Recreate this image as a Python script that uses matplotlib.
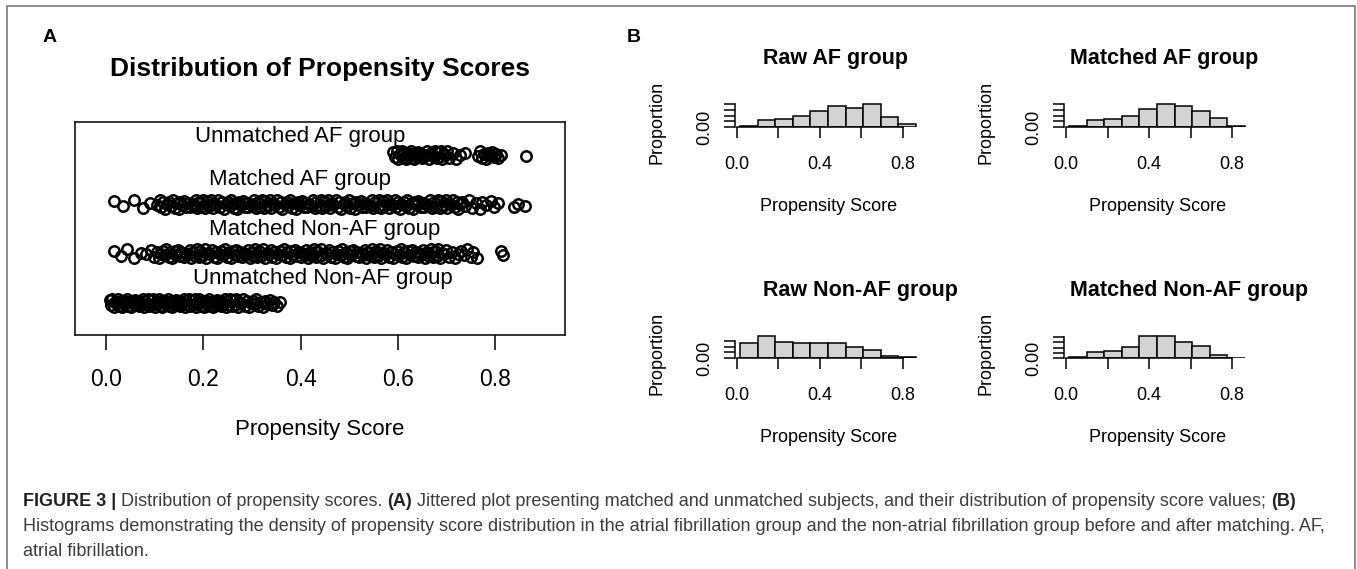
import matplotlib
matplotlib.use("Agg")
import matplotlib.pyplot as plt
import numpy as np
from matplotlib.patches import Rectangle
from matplotlib.transforms import IdentityTransform

W, H = 1357, 569
plt.rcParams['font.family'] = ['Liberation Sans', 'DejaVu Sans']

# ---- panel A: propensity scores per group (jitter plot)
group_names = ["Unmatched AF group", "Matched AF group",
               "Matched Non-AF group", "Unmatched Non-AF group"]

unmatched_af = [0.590, 0.594, 0.597, 0.600, 0.603, 0.606, 0.608, 0.611, 0.613, 0.616,
                0.618, 0.621, 0.623, 0.626, 0.628, 0.631, 0.633, 0.636, 0.638, 0.641,
                0.644, 0.647, 0.650, 0.653, 0.656, 0.660, 0.664, 0.668, 0.673, 0.676,
                0.679, 0.682, 0.685, 0.688, 0.691, 0.694, 0.697, 0.701, 0.705, 0.712,
                0.719, 0.727, 0.738, 0.764, 0.769, 0.773, 0.777, 0.781, 0.785, 0.789,
                0.793, 0.797, 0.801, 0.806, 0.812, 0.863]

matched_af = [0.017, 0.035, 0.058, 0.076, 0.090, 0.104,
              0.110, 0.114, 0.117, 0.122, 0.126, 0.129, 0.133, 0.138, 0.141, 0.145,
              0.149, 0.152, 0.157, 0.161, 0.164, 0.168, 0.173, 0.176, 0.180, 0.184,
              0.187, 0.192, 0.196, 0.199, 0.203, 0.208, 0.211, 0.215, 0.219, 0.222,
              0.227, 0.231, 0.234, 0.238, 0.243, 0.246, 0.250, 0.254, 0.257, 0.262,
              0.266, 0.269, 0.273, 0.278, 0.281, 0.285, 0.289, 0.292, 0.297, 0.301,
              0.304, 0.308, 0.313, 0.316, 0.320, 0.324, 0.327, 0.332, 0.336, 0.339,
              0.343, 0.348, 0.351, 0.355, 0.359, 0.362, 0.367, 0.371, 0.374, 0.378,
              0.383, 0.386, 0.390, 0.394, 0.397, 0.402, 0.406, 0.409, 0.413, 0.418,
              0.421, 0.425, 0.429, 0.432, 0.437, 0.441, 0.444, 0.448, 0.453, 0.456,
              0.460, 0.464, 0.467, 0.472, 0.476, 0.479, 0.483, 0.488, 0.491, 0.495,
              0.499, 0.502, 0.507, 0.511, 0.514, 0.518, 0.523, 0.526, 0.530, 0.534,
              0.537, 0.542, 0.546, 0.549, 0.553, 0.558, 0.561, 0.565, 0.569, 0.572,
              0.577, 0.581, 0.584, 0.588, 0.593, 0.596, 0.600, 0.604, 0.607, 0.612,
              0.616, 0.619, 0.623, 0.628, 0.631, 0.635, 0.639, 0.642, 0.647, 0.651,
              0.654, 0.658, 0.663, 0.666, 0.670, 0.674, 0.677, 0.682, 0.686, 0.689,
              0.693, 0.698, 0.701, 0.705, 0.709, 0.712, 0.717, 0.721, 0.724, 0.728,
              0.732, 0.738, 0.745, 0.752, 0.760, 0.768, 0.773, 0.781, 0.790, 0.798,
              0.806, 0.838, 0.846, 0.861]

matched_nonaf = [0.017, 0.031, 0.043, 0.058, 0.071, 0.083, 0.092, 0.099,
                 0.105, 0.108, 0.113, 0.117, 0.121, 0.124, 0.129, 0.132, 0.136, 0.141,
                 0.144, 0.148, 0.152, 0.155, 0.160, 0.163, 0.167, 0.172, 0.175, 0.179,
                 0.183, 0.186, 0.191, 0.194, 0.198, 0.203, 0.206, 0.210, 0.214, 0.217,
                 0.222, 0.225, 0.229, 0.234, 0.237, 0.241, 0.245, 0.248, 0.253, 0.256,
                 0.260, 0.265, 0.268, 0.272, 0.276, 0.279, 0.284, 0.287, 0.291, 0.296,
                 0.299, 0.303, 0.307, 0.310, 0.315, 0.318, 0.322, 0.327, 0.330, 0.334,
                 0.338, 0.341, 0.346, 0.349, 0.353, 0.358, 0.361, 0.365, 0.369, 0.372,
                 0.377, 0.380, 0.384, 0.389, 0.392, 0.396, 0.400, 0.403, 0.408, 0.411,
                 0.415, 0.420, 0.423, 0.427, 0.431, 0.434, 0.439, 0.442, 0.446, 0.451,
                 0.454, 0.458, 0.462, 0.465, 0.470, 0.473, 0.477, 0.482, 0.485, 0.489,
                 0.493, 0.496, 0.501, 0.504, 0.508, 0.513, 0.516, 0.520, 0.524, 0.527,
                 0.532, 0.535, 0.539, 0.544, 0.547, 0.551, 0.555, 0.558, 0.563, 0.566,
                 0.570, 0.575, 0.578, 0.582, 0.586, 0.589, 0.594, 0.597, 0.601, 0.606,
                 0.609, 0.613, 0.617, 0.620, 0.625, 0.628, 0.632, 0.637, 0.640, 0.644,
                 0.648, 0.651, 0.656, 0.659, 0.663, 0.668, 0.671, 0.675, 0.679, 0.682,
                 0.687, 0.690, 0.694, 0.699,
                 0.704, 0.711, 0.717, 0.724, 0.729, 0.736, 0.742, 0.749, 0.755, 0.762,
                 0.811, 0.815]

unmatched_nonaf = [0.008, 0.011, 0.013, 0.016, 0.019, 0.021, 0.024, 0.027, 0.030, 0.032,
                   0.035, 0.038, 0.040, 0.043, 0.046, 0.049, 0.051, 0.054, 0.057, 0.059,
                   0.062, 0.065, 0.068, 0.070, 0.073, 0.076, 0.078, 0.081, 0.084, 0.087,
                   0.089, 0.092, 0.095, 0.097, 0.100, 0.103, 0.106, 0.108, 0.111, 0.114,
                   0.116, 0.119, 0.122, 0.125, 0.127, 0.130, 0.133, 0.135, 0.138, 0.141,
                   0.144, 0.146, 0.149, 0.152, 0.154, 0.157, 0.160, 0.163, 0.165, 0.168,
                   0.171, 0.173, 0.176, 0.179, 0.182, 0.184, 0.187, 0.190, 0.192, 0.195,
                   0.198, 0.201, 0.203, 0.206, 0.209, 0.211, 0.214, 0.217, 0.220, 0.222,
                   0.225, 0.228, 0.230, 0.233, 0.236, 0.239, 0.241, 0.244, 0.247, 0.249,
                   0.252, 0.255, 0.258, 0.260, 0.264, 0.267, 0.271, 0.274, 0.278, 0.282,
                   0.285, 0.289, 0.293, 0.297, 0.301, 0.305, 0.309, 0.313, 0.318, 0.322,
                   0.327, 0.331, 0.336, 0.341, 0.346, 0.352, 0.358]

# small vertical offsets used to spread the points (cycled over each group)
jitter_pattern = [0.06, -0.04, 0.09, -0.08, 0.02, -0.01, 0.08, -0.06, 0.04, -0.09, 0.00,
                  0.05, -0.03, 0.09, -0.07, 0.03, -0.09, 0.05, -0.02, 0.07, -0.05, 0.03,
                  -0.06, 0.01, -0.03, 0.08, -0.08, 0.04, -0.05, 0.09, -0.07]

# ---- panel B: histograms (proportion per bin)
bin_edges = [0.015, 0.100, 0.184, 0.269, 0.354, 0.438, 0.523, 0.608, 0.692, 0.777, 0.862]
raw_af_prop = [0.002, 0.012, 0.0135, 0.019, 0.029, 0.037, 0.0335, 0.0405, 0.018, 0.005]
matched_af_prop = [0.0018, 0.0129, 0.0147, 0.020, 0.0312, 0.0412, 0.0365, 0.0276, 0.0159, 0.0012]
raw_nonaf_prop = [0.027, 0.039, 0.0293, 0.027, 0.027, 0.027, 0.0198, 0.0138, 0.0042, 0.0012]
matched_nonaf_prop = [0.0019, 0.0108, 0.0133, 0.0203, 0.0413, 0.0413, 0.0311, 0.0222, 0.0063, 0.0006]


fig = plt.figure(figsize=(W / 100, H / 100), dpi=100)
renderer = fig.canvas.get_renderer()


def axes_px(l, t, r, b):
    # axes from pixel box (origin top-left)
    return fig.add_axes([l / W, 1 - b / H, (r - l) / W, (b - t) / H])


def ftext(x, y, s, **kw):
    return fig.text(x, H - y, s, transform=IdentityTransform(), **kw)


# outer frame
fig.patches.append(Rectangle((7, H - 590), 1348, 590 - 6, transform=IdentityTransform(),
                             fill=False, edgecolor='#7a7a7a', linewidth=1.2))

# ---------------- Panel A
ftext(43, 42, "A", fontsize=14, fontweight='bold', va='baseline')
ftext(320, 76, "Distribution of Propensity Scores", fontsize=19, fontweight='bold',
      ha='center', va='baseline')

axA = axes_px(75, 122, 565, 335)
axA.set_xlim(-0.0637, 0.943)
axA.set_ylim(0.351, 4.669)
groups = [unmatched_af, matched_af, matched_nonaf, unmatched_nonaf]
label_x = [0.183, 0.212, 0.212, 0.179]
label_y = [4.26, 3.39, 2.37, 1.38]
for k, vals in enumerate(groups):
    y = 4 - k
    jit = np.resize(jitter_pattern, len(vals))
    axA.plot(vals, y + jit, 'o', mfc='none', mec='black', ms=7.5, mew=1.8)
    axA.text(label_x[k], label_y[k], group_names[k], fontsize=16, va='baseline')
axA.set_yticks([])
axA.set_xticks([0, 0.2, 0.4, 0.6, 0.8])
axA.set_xticklabels(["0.0", "0.2", "0.4", "0.6", "0.8"])
axA.tick_params(axis='x', length=11, width=1.1, pad=13, labelsize=16.5)
for sp in axA.spines.values():
    sp.set_linewidth(1.1)
axA.set_xlabel("Propensity Score", fontsize=16, va='center')
axA.xaxis.set_label_coords(0.5, (335 - 430) / (335 - 122))

# ---------------- Panel B
ftext(627, 42, "B", fontsize=14, fontweight='bold', va='baseline')


def hist_panel(x0, y0, ppu_y, props, nticks, title, title_x, title_y):
    ppu_x = 207.5
    l, r = x0 - 0.012 * ppu_x, x0 + 0.89 * ppu_x
    t, b = y0 - 0.046 * ppu_y, y0 + 0.0005 * ppu_y
    ax = axes_px(l, t, r, b)
    ax.set_xlim(-0.012, 0.89)
    ax.set_ylim(-0.0005, 0.046)
    ax.bar(bin_edges[:-1], props, width=np.diff(bin_edges), align='edge',
           color='#d3d3d3', edgecolor='black', linewidth=1.1)
    ax.spines['top'].set_visible(False)
    ax.spines['right'].set_visible(False)
    yt = [i * 0.01 for i in range(nticks)]
    ax.spines['left'].set_bounds(0, yt[-1])
    ax.spines['bottom'].set_bounds(0, 0.8)
    for sp in ax.spines.values():
        sp.set_linewidth(1.1)
    ax.set_xticks([0, 0.2, 0.4, 0.6, 0.8])
    ax.set_xticklabels(["0.0", "", "0.4", "", "0.8"])
    ax.set_yticks(yt)
    ax.set_yticklabels(["0.00"] + [""] * (nticks - 1))
    ax.tick_params(axis='x', length=8, width=1.1, pad=13, labelsize=13)
    ax.tick_params(axis='y', length=8, width=1.1, pad=7, labelsize=13)
    plt.setp(ax.get_yticklabels(), rotation=90, va='center')
    ax.set_ylabel("Proportion", fontsize=13, va='center')
    ax.yaxis.set_label_coords((x0 - 80 - l) / (r - l), (b - (y0 - 5)) / (b - t))
    ax.set_xlabel("Propensity Score", fontsize=13, va='center')
    ax.xaxis.set_label_coords(0.5, (b - (y0 + 80)) / (b - t))
    ftext(title_x, title_y, title, fontsize=15.5, fontweight='bold', va='baseline')
    return ax


hist_panel(737, 127, 567, raw_af_prop, 5, "Raw AF group", 763, 64)
hist_panel(1066, 127, 567, matched_af_prop, 5, "Matched AF group", 1070, 64)
hist_panel(737, 358, 557, raw_nonaf_prop, 4, "Raw Non-AF group", 763, 296)
hist_panel(1066, 358, 525, matched_nonaf_prop, 5, "Matched Non-AF group", 1070, 296)

# ---------------- Caption
cap_lines = [
    [("FIGURE 3 |", True), ("Distribution of propensity scores.", False), ("(A)", True),
     ("Jittered plot presenting matched and unmatched subjects, and their distribution of "
      "propensity score values;", False), ("(B)", True)],
    [("Histograms demonstrating the density of propensity score distribution in the atrial "
      "fibrillation group and the non-atrial fibrillation group before and after matching. AF,", False)],
    [("atrial fibrillation.", False)],
]


def text_width(s, size, bold):
    tt = fig.text(0, 0, s, fontsize=size, fontweight='bold' if bold else 'normal')
    w = tt.get_window_extent(renderer).width
    tt.remove()
    return w


def line_width(runs, size):
    sp = text_width("n n", size, False) - text_width("nn", size, False)
    return sum(text_width(s, size, b) for s, b in runs) + sp * (len(runs) - 1)


cap_size = 10 * (1302 - 23) / line_width(cap_lines[0], 10)
space_w = text_width("n n", cap_size, False) - text_width("nn", cap_size, False)
for runs, yb in zip(cap_lines, [506, 531, 556]):
    x = 23
    for s, b in runs:
        tt = ftext(x, yb, s, fontsize=cap_size, fontweight='bold' if b else 'normal',
                   color='#222222' if b else '#3d3d3d', va='baseline')
        x += tt.get_window_extent(renderer).width + space_w

fig.savefig("out.png", dpi=100)
